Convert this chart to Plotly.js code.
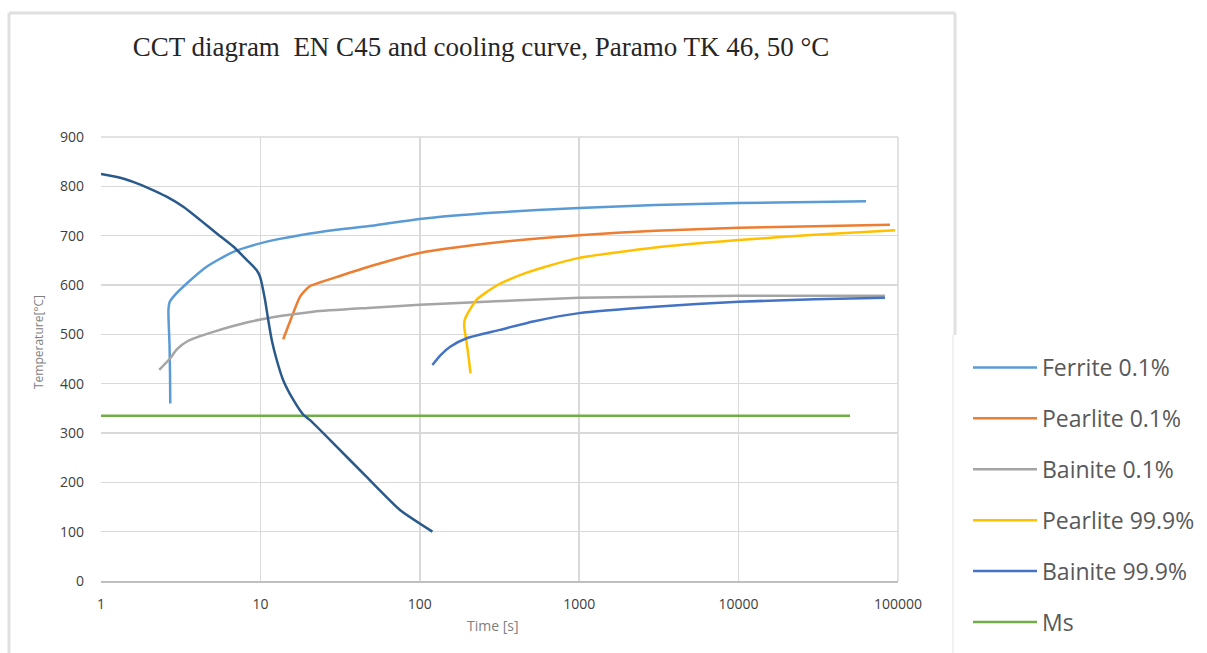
<!DOCTYPE html>
<html><head><meta charset="utf-8">
<script src="https://cdn.plot.ly/plotly-3.0.1.min.js"></script>
<style>body{margin:0;background:#fff}#c{width:1207px;height:653px}</style>
</head><body><div id="c"></div>
<script>
const seriesNames = ["Ferrite 0.1%","Pearlite 0.1%","Bainite 0.1%","Pearlite 99.9%","Bainite 99.9%","Ms"];
const colors = ["#5b9bd5","#ed7d31","#a5a5a5","#ffc000","#4472c4","#70ad47"];

const ferriteX = [2.72,2.71,2.69,2.66,2.65,2.70,2.84,3.45,4.6,6.76,10.96,17.7,30,50,100,300,1000,3000,10000,30000,63000];
const ferriteY = [360,420,480,520,550,566,576,603,637,667,688,701,712,720,734,747,756,762,766,768,770];

const pearlite01X = [13.9,15.5,17.7,19.5,20.5,24,30,50,100,300,1000,3000,10000,30000,89000];
const pearlite01Y = [490,530,576,592,598,606,616,639,665,686,701,710,716,719,722];

const bainite01X = [2.32,2.71,3.0,3.53,5.07,8.2,13.3,21.5,50,100,300,1000,3000,10000,30000,82800];
const bainite01Y = [428,451,470,487,505,524,537,546,554,560,567,574,576,578,578,578];

const pearlite999X = [208,203,197,190,191,197,227,300,425,600,1000,3000,10000,30000,96000];
const pearlite999Y = [421,450,482,515,528,539,570,598,620,636,655,676,691,702,711];

const bainite999X = [120,135,155,197,318,515,1000,3000,10000,30000,82800];
const bainite999Y = [438,458,475,492,509,526,543,556,566,571,574];

const msX = [1,50000];
const msY = [335,335];

const coolX = [1,1.3,1.59,2.0,2.58,3.3,4.18,5.3,6.76,8.2,9.48,9.94,10.69,11.2,11.77,12.66,13.9,16.1,18.6,20.5,28.7,46.4,75.1,120];
const coolY = [825,818,809,796,779,758,732,705,678,651,630,617,570,529,489,448,407,367,337,326,279,211,144,100];

const xTicks = [1,10,100,1000,10000,100000];
const xTickLabels = ["1","10","100","1000","10000","100000"];
const yTicks = [0,100,200,300,400,500,600,700,800,900];

const xs = [ferriteX,pearlite01X,bainite01X,pearlite999X,bainite999X,msX];
const ys = [ferriteY,pearlite01Y,bainite01Y,pearlite999Y,bainite999Y,msY];

const traces = seriesNames.map((n,i)=>({
  x: xs[i], y: ys[i], name: n, mode:'lines', type:'scatter',
  line:{color:colors[i], width:2.5, shape:'spline', smoothing:0.6},
  legendgroup:'g'+i
}));
traces.push({x:coolX,y:coolY,mode:'lines',type:'scatter',showlegend:false,
  line:{color:'#2a5a8c',width:2.5,shape:'spline',smoothing:0.5}});

const layout = {
  width:1207, height:653,
  margin:{l:101,r:309,t:137,b:72},
  paper_bgcolor:'#fff', plot_bgcolor:'#fff',
  font:{family:'Open Sans, Liberation Sans, sans-serif', color:'#404040'},
  title:{text:'CCT diagram&nbsp;&nbsp;EN C45 and cooling curve, Paramo TK 46, 50 °C',
    font:{family:'Liberation Serif, serif', size:27, color:'#262626'},
    xref:'container', x:481/1207, xanchor:'center', yref:'container', y:1-47/653, yanchor:'middle'},
  xaxis:{type:'log', range:[0,5], tickvals:xTicks, ticktext:xTickLabels,
    showgrid:true, gridcolor:'#d9d9d9', gridwidth:1.5, zeroline:false,
    showline:true, linecolor:'#bfbfbf', linewidth:1.5, mirror:false,
    tickfont:{size:14,color:'#404040'}, ticklabelstandoff:10, ticks:'',
    title:{text:''}},
  yaxis:{range:[0,900], tickvals:yTicks, showgrid:true, gridcolor:'#d9d9d9', gridwidth:1.5,
    zeroline:false, showline:false, tickfont:{size:14,color:'#404040'}, ticks:'', ticklabelstandoff:16,
    title:{text:''}},
  showlegend:true,
  legend:{xref:'container', yref:'container', x:968/1207, y:1-346/653, xanchor:'left', yanchor:'top',
    font:{size:23,color:'#595959', family:'Open Sans, Liberation Sans, sans-serif'},
    tracegroupgap:18, itemwidth:64, bgcolor:'rgba(0,0,0,0)'},
  annotations:[
    {text:'Time [s]', xref:'paper', yref:'paper', x:(493-101)/797, y:-(625-581)/444, xanchor:'center', yanchor:'middle',
     showarrow:false, font:{size:14,color:'#808080'}},
    {text:'Temperature[°C]', xref:'paper', yref:'paper', x:-(101-38)/797, y:(581-342)/444, xanchor:'center', yanchor:'middle',
     textangle:-90, showarrow:false, font:{size:12,color:'#808080'}}
  ],
  shapes:[
    {type:'line', xref:'paper', yref:'paper', x0:0, x1:1, y0:1, y1:1, line:{color:'#d9d9d9',width:1.5}},
    {type:'line', xref:'paper', yref:'paper', x0:1, x1:1, y0:0, y1:1, line:{color:'#d9d9d9',width:1.5}},
    {type:'line', xref:'paper', yref:'paper', x0:(9-101)/797, x1:(955-101)/797, y0:(581-13)/444, y1:(581-13)/444, line:{color:'#e0e0e0',width:3}},
    {type:'line', xref:'paper', yref:'paper', x0:(9-101)/797, x1:(9-101)/797, y0:(581-13)/444, y1:(581-660)/444, line:{color:'#e0e0e0',width:3}},
    {type:'line', xref:'paper', yref:'paper', x0:(955-101)/797, x1:(955-101)/797, y0:(581-13)/444, y1:(581-335)/444, line:{color:'#e0e0e0',width:3}},
    {type:'line', xref:'paper', yref:'paper', x0:(953-101)/797, x1:(953-101)/797, y0:(581-335)/444, y1:(581-660)/444, line:{color:'#eeeeee',width:1.5}}
  ]
};
Plotly.newPlot('c', traces, layout, {displayModeBar:false, staticPlot:true});
</script></body></html>
